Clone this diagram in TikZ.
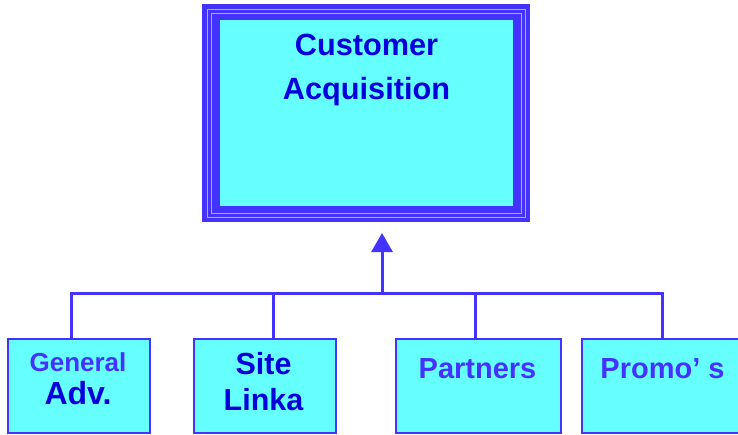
\documentclass[tikz,border=0pt]{standalone}
\usepackage{fontspec}
\setmainfont{Liberation Sans}
\usetikzlibrary{arrows.meta}
\definecolor{lblue}{RGB}{68,51,255}
\definecolor{dblue}{RGB}{0,0,220}
\definecolor{cyanf}{RGB}{102,255,255}
\definecolor{pale}{RGB}{110,200,255}
\tikzset{
  box/.style={draw=lblue, line width=2pt, fill=cyanf, inner sep=0pt, outer sep=0pt},
  conn/.style={draw=lblue, line width=3pt},
  txt/.style={anchor=base, inner sep=0pt, font=\bfseries},
}
\begin{document}
\begin{tikzpicture}[x=1pt,y=-1pt]
\useasboundingbox (0,0) rectangle (738,434);
\clip (0,0) rectangle (738,434);
% top box
\node[fill=lblue, minimum width=328pt, minimum height=218pt, inner sep=0pt, outer sep=0pt] (top) at (366,113) {};
\draw[pale, line width=1pt] (207,9) rectangle (525,217);
\draw[pale, line width=1pt] (211,13) rectangle (521,213);
\fill[cyanf] (220,20) rectangle (513,206);
\node[txt, text=dblue, font=\bfseries\fontsize{30.7}{34}\selectfont] (t1) at (366.5,55) {Customer};
\node[txt, text=dblue, font=\bfseries\fontsize{30.7}{34}\selectfont] (t2) at (366.5,99) {Acquisition};
% bottom boxes
\node[box, minimum width=142pt, minimum height=94pt] (b1) at (79,385.5) {};
\node[box, minimum width=142pt, minimum height=94pt] (b2) at (265,385.5) {};
\node[box, minimum width=165pt, minimum height=94pt] (b3) at (478.5,385.5) {};
\node[box, minimum width=162pt, minimum height=94pt] (b4) at (663,385.5) {};
\node[txt, text=lblue, font=\bfseries\fontsize{26}{30}\selectfont] (l1a) at (78,371) {General};
\node[txt, text=dblue, font=\bfseries\fontsize{32}{36}\selectfont] (l1b) at (78,404) {Adv.};
\node[txt, text=dblue, font=\bfseries\fontsize{30.5}{34}\selectfont] (l2a) at (263.5,374) {Site};
\node[txt, text=dblue, font=\bfseries\fontsize{30.5}{34}\selectfont] (l2b) at (263.5,410) {Linka};
\node[txt, text=lblue, font=\bfseries\fontsize{29}{34}\selectfont] (l3) at (477.5,378) {Partners};
\node[txt, text=lblue, font=\bfseries\fontsize{29}{34}\selectfont] (l4) at (662.5,378) {Promo’ s};
% connectors
\coordinate (bus) at (382,293);
\draw[conn] ([xshift=-8pt]b1.north) -- ([xshift=-8pt]b1.north |- bus) -- ([xshift=-1pt]b4.north |- bus) -- ([xshift=-1pt]b4.north);
\draw[conn] ([xshift=8pt]b2.north) -- ([xshift=8pt]b2.north |- bus);
\draw[conn] ([xshift=-3.5pt]b3.north) -- ([xshift=-3.5pt]b3.north |- bus);
\draw[conn, -{Triangle[length=19pt,width=21pt]}, shorten >=11pt] (bus) -- (bus |- top.south);
\end{tikzpicture}
\end{document}
